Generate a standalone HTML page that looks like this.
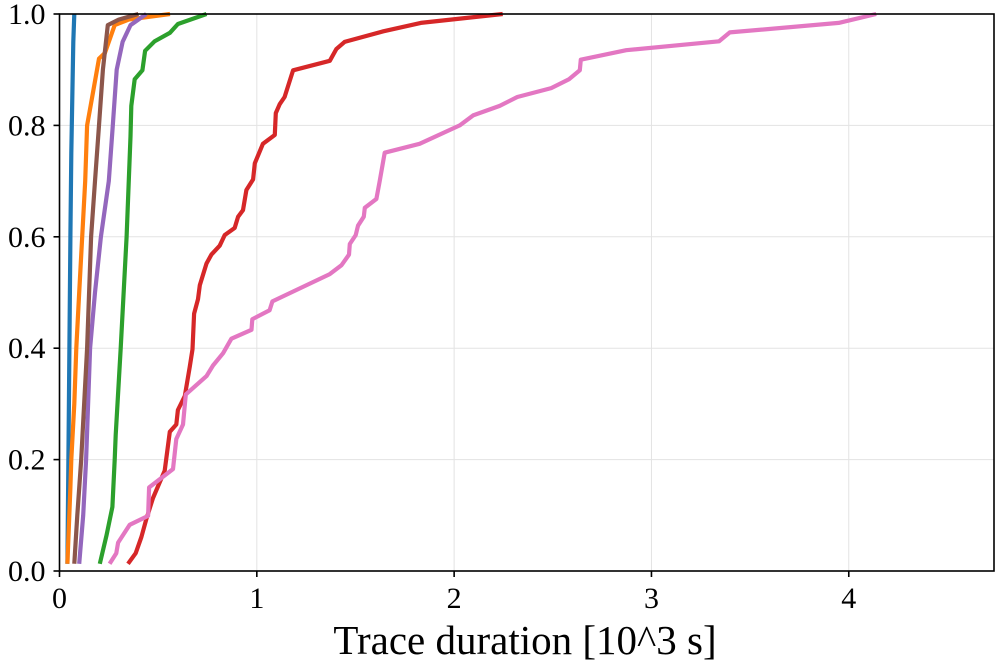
<!DOCTYPE html>
<html><head><meta charset="utf-8"><style>
html,body{margin:0;padding:0;background:#fff}
svg{display:block}
text{font-family:"Liberation Serif",serif;fill:#000}
</style></head><body>
<svg id="chart" width="996" height="666" viewBox="0 0 996 666">
<g id="grid"></g>
<g id="series"></g>
<g id="axes"></g>
<text x="525" y="654" text-anchor="middle" font-size="41">Trace duration [10^3 s]</text>
</svg>
<script>
const xTicks=[0,1,2,3,4];
const yTicks=[0,0.2,0.4,0.6,0.8,1.0];
const seriesColors=["#1f77b4","#ff7f0e","#2ca02c","#d62728","#9467bd","#8c564b","#e377c2"];
const seriesNames=["blue","orange","green","red","purple","brown","pink"];
const blueX=[0.04,0.045,0.05,0.055,0.06,0.065,0.07,0.075];
const blueY=[0.013,0.2,0.4,0.6,0.75,0.85,0.95,1.0];
const orangeX=[0.04,0.055,0.06,0.075,0.085,0.1,0.115,0.13,0.14,0.16,0.2,0.23,0.28,0.35,0.56];
const orangeY=[0.013,0.15,0.2,0.3,0.4,0.5,0.6,0.7,0.8,0.84,0.92,0.93,0.98,0.99,1.0];
const greenX=[0.204,0.238,0.268,0.28,0.285,0.31,0.34,0.36,0.364,0.381,0.42,0.434,0.482,0.559,0.6,0.745];
const greenY=[0.013,0.064,0.115,0.2,0.244,0.4,0.6,0.78,0.835,0.883,0.899,0.934,0.951,0.966,0.982,1.0];
const redX=[0.347,0.386,0.415,0.44,0.474,0.533,0.559,0.592,0.6,0.635,0.66,0.674,0.682,0.702,0.711,0.745,0.77,0.812,0.837,0.888,0.905,0.93,0.947,0.981,0.99,1.031,1.091,1.096,1.116,1.141,1.184,1.37,1.403,1.445,1.641,1.831,2.246];
const redY=[0.013,0.032,0.061,0.093,0.131,0.18,0.25,0.263,0.289,0.314,0.366,0.398,0.462,0.488,0.513,0.552,0.568,0.584,0.603,0.616,0.636,0.648,0.684,0.703,0.732,0.767,0.783,0.822,0.838,0.851,0.899,0.916,0.937,0.95,0.969,0.984,1.0];
const purpleX=[0.1,0.12,0.135,0.155,0.18,0.21,0.25,0.27,0.29,0.32,0.36,0.44];
const purpleY=[0.013,0.1,0.2,0.4,0.5,0.6,0.7,0.8,0.9,0.95,0.98,1.0];
const brownX=[0.075,0.09,0.11,0.14,0.16,0.18,0.2,0.22,0.245,0.3,0.4];
const brownY=[0.013,0.1,0.2,0.4,0.6,0.7,0.8,0.9,0.98,0.99,1.0];
const pinkX=[0.254,0.288,0.297,0.356,0.449,0.454,0.575,0.592,0.626,0.64,0.745,0.778,0.829,0.871,0.973,0.977,1.065,1.079,1.37,1.429,1.467,1.471,1.501,1.513,1.542,1.547,1.606,1.623,1.648,1.825,2.028,2.096,2.231,2.32,2.492,2.582,2.637,2.642,2.872,3.343,3.397,3.949,4.139];
const pinkY=[0.013,0.032,0.051,0.083,0.099,0.15,0.183,0.237,0.263,0.317,0.35,0.369,0.391,0.417,0.433,0.452,0.468,0.484,0.533,0.549,0.568,0.587,0.603,0.62,0.636,0.652,0.668,0.7,0.751,0.767,0.8,0.818,0.835,0.851,0.867,0.883,0.899,0.918,0.935,0.951,0.967,0.984,1.0];

const L=59.5,R=994,T=14,B=571,XMAX=4.736;
const sx=v=>L+v/XMAX*(R-L);
const sy=v=>B-v*(B-T);
const NS="http://www.w3.org/2000/svg";
function mk(tag,attrs,parent){const e=document.createElementNS(NS,tag);for(const k in attrs)e.setAttribute(k,attrs[k]);parent.appendChild(e);return e;}
const grid=document.getElementById('grid'),ser=document.getElementById('series'),axes=document.getElementById('axes');
xTicks.forEach(t=>{
  const g=mk('line',{x1:sx(t),x2:sx(t),y1:T,y2:B,stroke:'#e3e3e3','stroke-width':1},grid);
  
  
  const tk=mk('line',{x1:sx(t),x2:sx(t),y1:B,y2:B+6,stroke:'#000','stroke-width':1.6},axes);
  
  
  const lb=mk('text',{x:sx(t),y:B+37,'text-anchor':'middle','font-size':30},axes);
  lb.textContent=String(t);
  
  
});
yTicks.forEach(t=>{
  const g=mk('line',{x1:L,x2:R,y1:sy(t),y2:sy(t),stroke:'#e3e3e3','stroke-width':1},grid);
  
  
  const tk=mk('line',{x1:L-6,x2:L,y1:sy(t),y2:sy(t),stroke:'#000','stroke-width':1.6},axes);
  
  
  const lb=mk('text',{x:L-14,y:sy(t)+10,'text-anchor':'end','font-size':30},axes);
  lb.textContent=t.toFixed(1);
  
  
});
const allX=[blueX,orangeX,greenX,redX,purpleX,brownX,pinkX];
const allY=[blueY,orangeY,greenY,redY,purpleY,brownY,pinkY];
const order=[0,1,2,3,4,5,6];
order.forEach(i=>{
  const pts=allX[i].map((x,j)=>sx(x).toFixed(1)+','+sy(allY[i][j]).toFixed(1)).join(' ');
  const p=mk('polyline',{points:pts,fill:'none',stroke:seriesColors[i],'stroke-width':4.2,'stroke-linejoin':'round'},ser);
  
  
});
const fr=mk('rect',{x:L,y:T,width:R-L,height:B-T,fill:'none',stroke:'#000','stroke-width':1.6},axes);


</script>
</body></html>
